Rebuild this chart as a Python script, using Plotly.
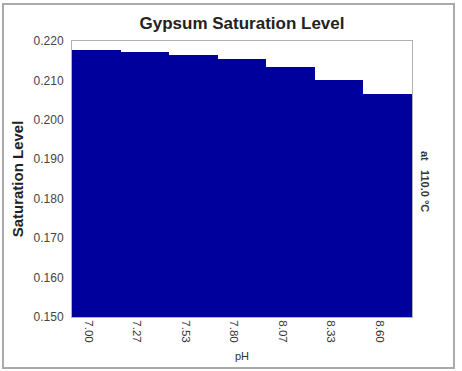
import plotly.graph_objects as go

# pH steps and the gypsum saturation level at each
ph_labels = ["7.00", "7.27", "7.53", "7.80", "8.07", "8.33", "8.60"]
saturation = [0.2177, 0.2172, 0.2164, 0.2154, 0.2133, 0.2101, 0.2065]
y_ticks = [0.150, 0.160, 0.170, 0.180, 0.190, 0.200, 0.210, 0.220]
temperature_note = "at   110.0 °C"

positions = list(range(len(ph_labels)))

fig = go.Figure(
    go.Bar(
        x=positions,
        y=saturation,
        marker=dict(color="#00009c", line=dict(width=0)),
        showlegend=False,
    )
)

L, R, T, B = 72, 50, 41, 54
W, H = 462, 371
pw, ph = W - L - R, H - T - B

fig.update_layout(
    width=W,
    height=H,
    margin=dict(l=L, r=R, t=T, b=B),
    paper_bgcolor="white",
    plot_bgcolor="white",
    bargap=0,
    font=dict(family="Liberation Sans, Arial, sans-serif", color="#333333"),
    title=dict(
        text="<b>Gypsum Saturation Level</b>",
        x=242 / W,
        xanchor="center",
        y=1 - 23 / H,
        yanchor="middle",
        font=dict(size=17, color="#222222"),
    ),
    xaxis=dict(
        range=[-0.5, len(ph_labels) - 0.5],
        tickmode="array",
        tickvals=positions,
        ticktext=ph_labels,
        tickangle=90,
        ticklabelshift=-8,
        tickfont=dict(size=11.5, color="#333333"),
        showgrid=False,
        zeroline=False,
        showline=True,
        linecolor="#b0b0b0",
        linewidth=1,
        mirror=True,
        ticks="",
        title=dict(text="pH", font=dict(size=11, color="#333333"), standoff=10),
    ),
    yaxis=dict(
        range=[0.150, 0.220],
        tickmode="array",
        tickvals=y_ticks,
        tickformat=".3f",
        tickfont=dict(size=12, color="#444444"),
        ticklabelstandoff=5,
        showgrid=False,
        zeroline=False,
        showline=True,
        linecolor="#b0b0b0",
        linewidth=1,
        mirror=True,
        ticks="",
        title=dict(
            text="<b>Saturation Level</b>",
            font=dict(size=15, color="#222222"),
            standoff=6,
        ),
    ),
    shapes=[
        dict(
            type="rect",
            xref="paper",
            yref="paper",
            x0=(3 - L) / pw,
            x1=(454 - L) / pw,
            y0=(H - B - 368) / ph,
            y1=(H - B - 4) / ph,
            line=dict(color="#aaaaaa", width=2),
            fillcolor="rgba(0,0,0,0)",
            layer="below",
        )
    ],
    annotations=[
        dict(
            text="<b>" + temperature_note + "</b>",
            xref="paper",
            yref="paper",
            x=(425 - L) / pw,
            y=(H - B - 181) / ph,
            xanchor="center",
            yanchor="middle",
            textangle=90,
            showarrow=False,
            font=dict(size=11, color="#333333"),
        )
    ],
)

fig.write_html("out.html")
